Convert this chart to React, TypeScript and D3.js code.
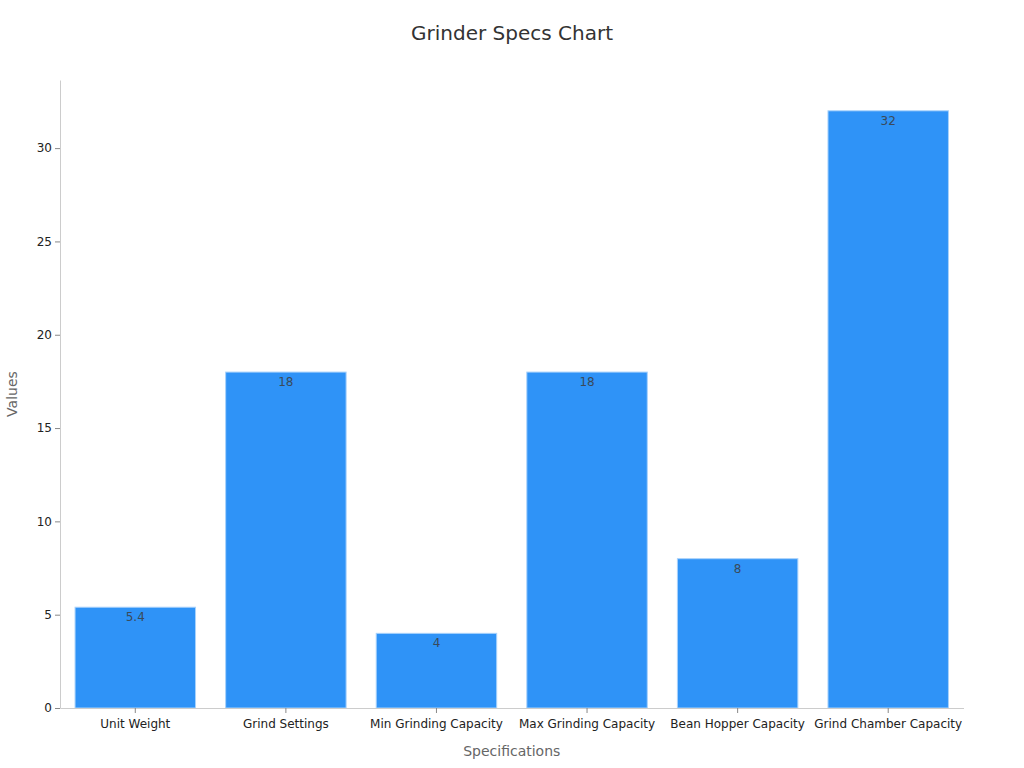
import { useEffect, useRef } from 'react';
import * as d3 from 'd3';

const categories = [
  'Unit Weight',
  'Grind Settings',
  'Min Grinding Capacity',
  'Max Grinding Capacity',
  'Bean Hopper Capacity',
  'Grind Chamber Capacity',
];
const values = [5.4, 18, 4, 18, 8, 32];
const yTicks = [0, 5, 10, 15, 20, 25, 30];

const FONT = '"DejaVu Sans", sans-serif';

export default function App() {
  const ref = useRef<SVGSVGElement>(null);

  useEffect(() => {
    const svgElement = ref.current;
    if (!svgElement) return;
    const svg = d3.select(svgElement);
    svg.selectAll('*').remove();

    const width = 1024;
    const height = 768;
    const margin = { top: 80, right: 60.5, bottom: 60, left: 60 };

    const x = d3
      .scaleBand<string>()
      .domain(categories)
      .range([margin.left, width - margin.right])
      .paddingInner(0.2)
      .paddingOuter(0.1);

    const y = d3
      .scaleLinear()
      .domain([0, 33.65])
      .range([height - margin.bottom, margin.top]);

    svg
      .append('text')
      .attr('x', width / 2)
      .attr('y', 40)
      .attr('text-anchor', 'middle')
      .attr('font-family', FONT)
      .attr('font-size', 20)
      .attr('fill', '#333')
      .text('Grinder Specs Chart');

    svg
      .append('g')
      .selectAll('rect')
      .data(values)
      .join('rect')
      .attr('x', (_d, i) => x(categories[i]) ?? 0)
      .attr('y', (d) => y(d))
      .attr('width', x.bandwidth())
      .attr('height', (d) => y(0) - y(d))
      .attr('fill', '#2f93f7')
      .attr('stroke', '#a9d2fb')
      .attr('stroke-width', 1);

    svg
      .append('g')
      .selectAll('text')
      .data(values)
      .join('text')
      .attr('x', (_d, i) => (x(categories[i]) ?? 0) + x.bandwidth() / 2)
      .attr('y', (d) => y(d) + 14)
      .attr('text-anchor', 'middle')
      .attr('font-family', FONT)
      .attr('font-size', 12)
      .attr('fill', '#3a4a5a')
      .text((d) => String(d));

    const xAxis = svg
      .append('g')
      .attr('transform', `translate(0,${y(0)})`)
      .call(d3.axisBottom(x).tickSize(5).tickSizeOuter(0));
    xAxis.select('.domain').attr('stroke', '#ccc');
    xAxis.selectAll('.tick line').attr('stroke', '#888');
    xAxis
      .selectAll('.tick text')
      .attr('font-family', FONT)
      .attr('font-size', 12)
      .attr('fill', '#222')
      .attr('dy', '1em');

    const yAxis = svg
      .append('g')
      .attr('transform', `translate(${margin.left},0)`)
      .call(d3.axisLeft(y).tickValues(yTicks).tickSize(5).tickSizeOuter(0));
    yAxis.select('.domain').attr('stroke', '#ccc');
    yAxis.selectAll('.tick line').attr('stroke', '#888');
    yAxis
      .selectAll('.tick text')
      .attr('font-family', FONT)
      .attr('font-size', 12)
      .attr('fill', '#222');

    svg
      .append('text')
      .attr('x', (margin.left + width - margin.right) / 2)
      .attr('y', 756)
      .attr('text-anchor', 'middle')
      .attr('font-family', FONT)
      .attr('font-size', 14)
      .attr('fill', '#666')
      .text('Specifications');

    svg
      .append('text')
      .attr('transform', `translate(17,${(margin.top + height - margin.bottom) / 2}) rotate(-90)`)
      .attr('text-anchor', 'middle')
      .attr('font-family', FONT)
      .attr('font-size', 14)
      .attr('fill', '#666')
      .text('Values');
  }, []);

  return (
    <svg
      ref={ref}
      width={1024}
      height={768}
      style={{ position: 'absolute', left: 0, top: 0, background: '#fff' }}
    />
  );
}
